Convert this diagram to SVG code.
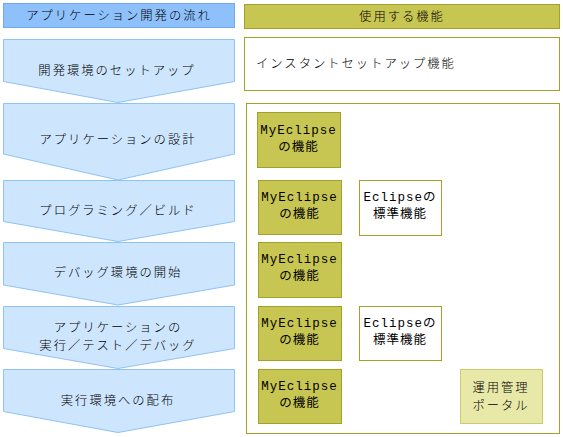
<svg xmlns="http://www.w3.org/2000/svg" width="563" height="437" viewBox="0 0 563 437">
<style>
.hdrL{fill:#8ec0fb;stroke:#6fa8ee;stroke-width:1}
.hdrR{fill:#c8c652;stroke:#a2a12c;stroke-width:1}
.step{fill:#cde5fd;stroke:#8ec3f5;stroke-width:1}
.frame{fill:#ffffff;stroke:#a2a12c;stroke-width:1}
.my{fill:#c8c652;stroke:#a2a12c;stroke-width:1}
.ecl{fill:#ffffff;stroke:#a2a12c;stroke-width:1}
.portal{fill:#e8e8a8;stroke:#cccc6a;stroke-width:1}
text{font-family:"Noto Sans CJK JP","Liberation Sans",sans-serif;font-size:12.3px;font-weight:300;fill:#000;letter-spacing:2px;dominant-baseline:central}
.c{text-anchor:middle}
.mono{font-family:"Liberation Mono","Noto Sans CJK JP",monospace;font-size:12.5px;font-weight:normal;letter-spacing:1px}
</style>
<rect width="563" height="437" fill="#ffffff"/>
<g id="header-flow"><rect class="hdrL" x="3.5" y="3.5" width="231" height="24"/><text class="c" x="119" y="14.5">アプリケーション開発の流れ</text></g>
<g id="header-features"><rect class="hdrR" x="244.5" y="4.5" width="315" height="24"/><text class="c" x="402" y="15.5">使用する機能</text></g>
<g id="step1"><polygon class="step" points="3.5,39.5 234.5,39.5 234.5,81.5 118,102.5 3.5,81.5"/><text class="c" x="117" y="69.7">開発環境のセットアップ</text></g>
<g id="feature-instant"><rect class="frame" x="244.5" y="37.5" width="315" height="53"/><text x="256" y="62.5">インスタントセットアップ機能</text></g>
<g id="feature-frame"><rect class="frame" x="246.5" y="103.5" width="313" height="330"/></g>
<g id="step2"><polygon class="step" points="3.5,103.5 234.5,103.5 234.5,154 118,180 3.5,154"/><text class="c" x="118" y="139.3">アプリケーションの設計</text></g>
<g id="step3"><polygon class="step" points="3.5,180.5 234.5,180.5 234.5,221.5 118,241.5 3.5,221.5"/><text class="c" x="118" y="209.5">プログラミング／ビルド</text></g>
<g id="step4"><polygon class="step" points="3.5,242.5 234.5,242.5 234.5,285 118,305 3.5,285"/><text class="c" x="118" y="271.5">デバッグ環境の開始</text></g>
<g id="step5"><polygon class="step" points="3.5,306.5 234.5,306.5 234.5,348.5 118,368.5 3.5,348.5"/><text class="c" x="118" y="327">アプリケーションの</text><text class="c" x="118" y="345">実行／テスト／デバッグ</text></g>
<g id="step6"><polygon class="step" points="3.5,369.5 234.5,369.5 234.5,411.5 118,432.5 3.5,411.5"/><text class="c" x="118" y="399.7">実行環境への配布</text></g>
<g id="my1"><rect class="my" x="257.5" y="112.5" width="83" height="55"/><text class="c mono" x="298.5" y="130.5">MyEclipse</text><text class="c mono" x="298.5" y="147.5">の機能</text></g>
<g id="my2"><rect class="my" x="258.5" y="180.5" width="83" height="54"/><text class="c mono" x="299.5" y="198">MyEclipse</text><text class="c mono" x="299.5" y="215">の機能</text></g>
<g id="ecl1"><rect class="ecl" x="359.5" y="180.5" width="82" height="55"/><text class="c mono" x="400" y="198">Eclipseの</text><text class="c mono" x="400" y="214.7">標準機能</text></g>
<g id="my3"><rect class="my" x="258.5" y="242.5" width="83" height="55"/><text class="c mono" x="299.5" y="260">MyEclipse</text><text class="c mono" x="299.5" y="277">の機能</text></g>
<g id="my4"><rect class="my" x="258.5" y="306.5" width="83" height="54"/><text class="c mono" x="299.5" y="324">MyEclipse</text><text class="c mono" x="299.5" y="341">の機能</text></g>
<g id="ecl2"><rect class="ecl" x="359.5" y="306.5" width="82" height="54"/><text class="c mono" x="400" y="324">Eclipseの</text><text class="c mono" x="400" y="340.7">標準機能</text></g>
<g id="my5"><rect class="my" x="258.5" y="369.5" width="83" height="54"/><text class="c mono" x="299.5" y="387">MyEclipse</text><text class="c mono" x="299.5" y="404">の機能</text></g>
<g id="portal"><rect class="portal" x="460.5" y="369.5" width="82" height="54"/><text class="c" x="501" y="387">運用管理</text><text class="c" x="501" y="405">ポータル</text></g>
<g id="connectors"></g>
</svg>
